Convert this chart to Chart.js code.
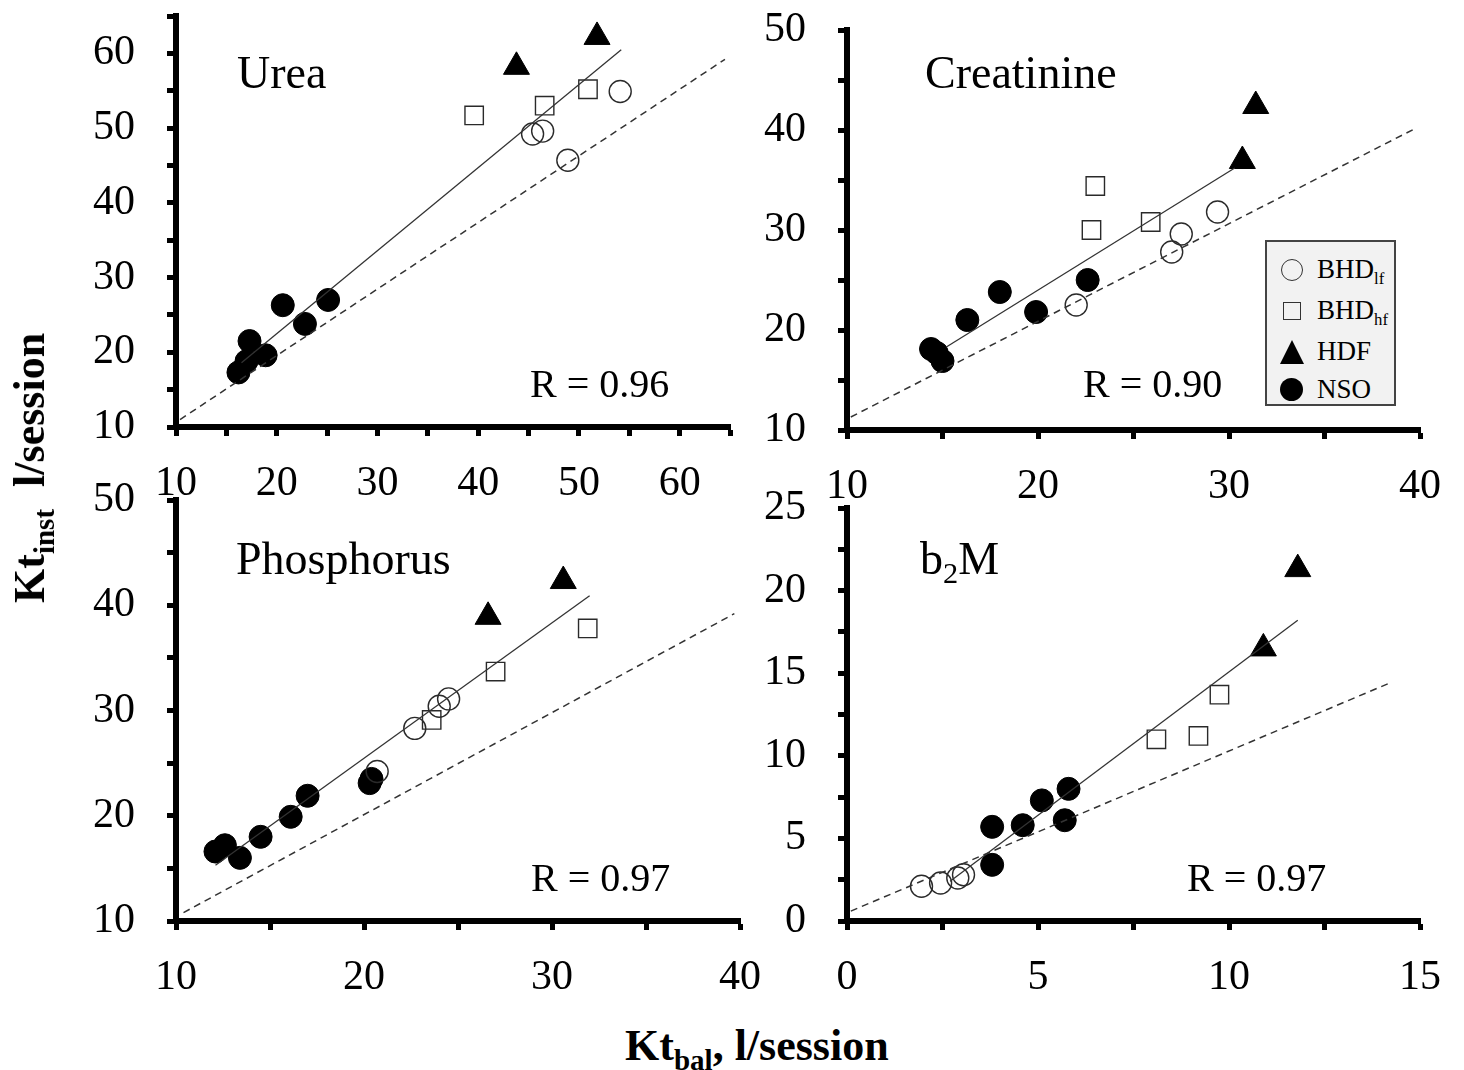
<!DOCTYPE html>
<html lang="en">
<head>
<meta charset="UTF-8">
<title>Kt inst vs Kt bal</title>
<script src="https://cdn.jsdelivr.net/npm/chart.js"></script>
<style>
  body { margin: 0; background: #fff; width: 1464px; height: 1070px; position: relative; overflow: hidden;
         font-family: "Liberation Serif", "Times New Roman", serif; color: #000; }
  canvas { position: absolute; }
  .lbl { position: absolute; white-space: nowrap; line-height: 1; }
  .ttl { font-size: 46px; }
  .rv { font-size: 40px; }
  .axt { font-size: 44px; font-weight: bold; }
  .axt sub { font-size: 66%; vertical-align: -0.35em; line-height: 0; }
  .ttl sub { font-size: 66%; vertical-align: -0.3em; line-height: 0; }
  #legend { position: absolute; left: 1265px; top: 240px; width: 131px; height: 166px; box-sizing: border-box;
            border: 2px solid #444; background: #f2f2f2; font-size: 27px; }
  #legend .row { position: absolute; left: 50px; white-space: nowrap; line-height: 1; }
  #legend .row sub { font-size: 62%; vertical-align: -0.35em; line-height: 0; }
  #legend .sym { position: absolute; box-sizing: border-box; }
</style>
</head>
<body>

<canvas id="c1"></canvas>
<canvas id="c2"></canvas>
<canvas id="c3"></canvas>
<canvas id="c4"></canvas>

<div class="lbl ttl" style="left:237px; top:50px;">Urea</div>
<div class="lbl ttl" style="left:925px; top:50px;">Creatinine</div>
<div class="lbl ttl" style="left:236px; top:536px;">Phosphorus</div>
<div class="lbl ttl" style="left:920px; top:536px;">b<sub>2</sub>M</div>

<div class="lbl rv" style="left:530px; top:364px;">R = 0.96</div>
<div class="lbl rv" style="left:1083px; top:364px;">R = 0.90</div>
<div class="lbl rv" style="left:531px; top:858px;">R = 0.97</div>
<div class="lbl rv" style="left:1187px; top:858px;">R = 0.97</div>

<div id="legend">
  <div class="sym" style="left:14px; top:17px; width:22px; height:22px; border:1.5px solid #333; border-radius:50%;"></div>
  <div class="row" style="top:14px;">BHD<sub>lf</sub></div>
  <div class="sym" style="left:16px; top:60px; width:18px; height:18px; border:1.5px solid #333;"></div>
  <div class="row" style="top:55px;">BHD<sub>hf</sub></div>
  <div class="sym" style="left:13px; top:98px; width:0; height:0; border-left:12px solid transparent; border-right:12px solid transparent; border-bottom:24px solid #000;"></div>
  <div class="row" style="top:96px;">HDF</div>
  <div class="sym" style="left:13px; top:136px; width:23px; height:23px; border-radius:50%; background:#000;"></div>
  <div class="row" style="top:134px;">NSO</div>
</div>

<div class="lbl axt" style="left:30px; top:468px; transform: translate(-50%, -50%) rotate(-90deg);">Kt<sub>inst</sub>&nbsp; l/session</div>
<div class="lbl axt" style="left:625px; top:1024px;">Kt<sub>bal</sub>, l/session</div>

<script>
  // [Kt_bal, Kt_inst] pairs
  const ureaLf  = [[45.4, 49.2], [46.4, 49.6], [48.9, 45.7], [54.1, 54.9]];
  const ureaHf  = [[39.6, 51.7], [46.6, 53.0], [50.9, 55.2]];
  const ureaHdf = [[43.8, 58.2], [51.8, 62.2]];
  const ureaNso = [[20.6, 26.3], [25.1, 27.0], [22.8, 23.8], [17.3, 21.5], [17.0, 18.8], [18.9, 19.6], [16.2, 17.3]];
  const ureaFit = [[16.5, 18.6], [54.2, 60.5]];
  const ureaRef = [[10.4, 11.0], [64.5, 59.2]];

  const creaLf  = [[22.0, 22.5], [27.0, 27.8], [27.5, 29.6], [29.4, 31.8]];
  const creaHf  = [[23.0, 34.4], [22.8, 30.0], [25.9, 30.8]];
  const creaHdf = [[31.4, 42.4], [30.7, 36.9]];
  const creaNso = [[14.4, 18.1], [14.7, 17.7], [15.0, 16.9], [16.3, 21.0], [18.0, 23.8], [19.9, 21.8], [22.6, 25.0]];
  const creaFit = [[15.2, 18.3], [30.3, 36.2]];
  const creaRef = [[10.2, 11.3], [39.8, 40.2]];

  const phosLf  = [[22.7, 28.3], [24.0, 30.4], [24.5, 31.1], [20.7, 24.2]];
  const phosHf  = [[23.6, 29.1], [27.0, 33.7], [31.9, 37.8]];
  const phosHdf = [[26.6, 38.9], [30.6, 42.3]];
  const phosNso = [[12.1, 16.6], [12.6, 17.2], [13.4, 16.0], [14.5, 18.0], [16.1, 19.9], [17.0, 21.9], [20.3, 23.1], [20.4, 23.5]];
  const phosFit = [[12.1, 15.3], [32.0, 40.9]];
  const phosRef = [[10.4, 10.8], [39.7, 39.2]];

  const b2mLf  = [[1.95, 2.1], [2.45, 2.3], [2.9, 2.6], [3.05, 2.8]];
  const b2mHf  = [[8.1, 11.0], [9.2, 11.2], [9.75, 13.7]];
  const b2mHdf = [[10.9, 16.5], [11.8, 21.3]];
  const b2mNso = [[3.8, 5.7], [3.8, 3.4], [4.6, 5.8], [5.1, 7.3], [5.8, 8.0], [5.7, 6.1]];
  const b2mFit = [[2.7, 2.4], [11.8, 18.2]];
  const b2mRef = [[0.1, 0.6], [14.2, 14.4]];

  const pts = a => a.map(p => ({ x: p[0], y: p[1] }));

  // padding round the plot has to beat half a label + tick padding
  const PAD_TOP = 70, PAD_RIGHT = 55;

  function panel(id, area, series, axes) {
    const cv = document.getElementById(id);
    const w = area.r - area.l + 120 + PAD_RIGHT, h = area.b - area.t + PAD_TOP + 80;
    cv.width = w; cv.height = h;
    cv.style.left = (area.l - 120) + 'px';
    cv.style.top = (area.t - PAD_TOP) + 'px';

    const mark = { backgroundColor: 'rgba(0,0,0,0)', borderColor: '#2a2a2a', borderWidth: 1.4 };
    const tickFont = { family: 'Liberation Serif', size: 42 };
    const axis = (min, max, step, major, isX) => ({
      type: 'linear', min, max,
      border: { display: true, color: '#000', width: 6 },
      grid: { drawOnChartArea: false, drawTicks: true, tickLength: 9, tickWidth: 5, tickColor: '#000' },
      ticks: {
        stepSize: step, color: '#000', font: tickFont, padding: isX ? 23 : 32,
        maxRotation: 0, autoSkip: false,
        callback: v => (Math.abs(v / major - Math.round(v / major)) < 1e-6 ? String(v) : '')
      },
      afterFit: s => { if (isX) s.height = 80; else s.width = 120; }
    });

    new Chart(cv, {
      type: 'scatter',
      data: {
        datasets: [
          { data: pts(series.ref), type: 'line', borderColor: '#333', borderWidth: 1.5, borderDash: [7, 5], pointRadius: 0 },
          { data: pts(series.fit), type: 'line', borderColor: '#333', borderWidth: 1.3, pointRadius: 0 },
          Object.assign({ data: pts(series.lf), pointStyle: 'circle', pointRadius: 11 }, mark),
          Object.assign({ data: pts(series.hf), pointStyle: 'rect', pointRadius: 13 }, mark),
          { data: pts(series.hdf), pointStyle: 'triangle', pointRadius: 15, backgroundColor: '#000', borderColor: '#000', borderWidth: 1 },
          { data: pts(series.nso), pointStyle: 'circle', pointRadius: 11.5, backgroundColor: '#000', borderColor: '#000', borderWidth: 1 }
        ]
      },
      options: {
        responsive: false, animation: false, devicePixelRatio: 1,
        layout: { padding: { left: 0, top: PAD_TOP, right: PAD_RIGHT, bottom: 0 } },
        plugins: { legend: { display: false }, tooltip: { enabled: false } },
        scales: {
          x: axis(axes.x[0], axes.x[1], axes.x[2], axes.x[3], true),
          y: axis(axes.y[0], axes.y[1], axes.y[2], axes.y[3], false)
        }
      }
    });
  }

  panel('c1', { l: 176, r: 730, t: 16, b: 427 },
    { lf: ureaLf, hf: ureaHf, hdf: ureaHdf, nso: ureaNso, fit: ureaFit, ref: ureaRef },
    { x: [10, 65, 5, 10], y: [10, 65, 5, 10] });
  panel('c2', { l: 847, r: 1420, t: 30, b: 430 },
    { lf: creaLf, hf: creaHf, hdf: creaHdf, nso: creaNso, fit: creaFit, ref: creaRef },
    { x: [10, 40, 5, 10], y: [10, 50, 5, 10] });
  panel('c3', { l: 176, r: 740, t: 500, b: 921 },
    { lf: phosLf, hf: phosHf, hdf: phosHdf, nso: phosNso, fit: phosFit, ref: phosRef },
    { x: [10, 40, 5, 10], y: [10, 50, 5, 10] });
  panel('c4', { l: 847, r: 1420, t: 508, b: 921 },
    { lf: b2mLf, hf: b2mHf, hdf: b2mHdf, nso: b2mNso, fit: b2mFit, ref: b2mRef },
    { x: [0, 15, 2.5, 5], y: [0, 25, 2.5, 5] });
</script>
</body>
</html>
